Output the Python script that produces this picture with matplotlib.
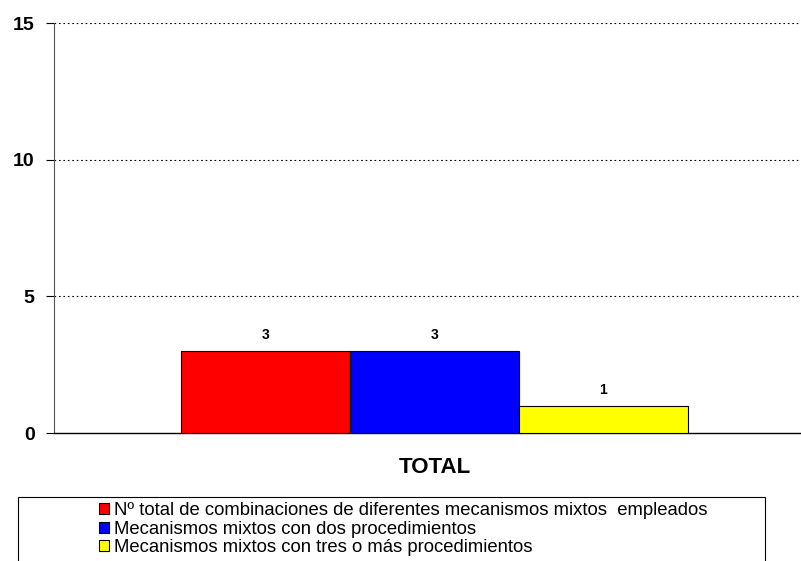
import matplotlib
matplotlib.use("Agg")
import matplotlib.pyplot as plt
from matplotlib.patches import Rectangle, Patch

plt.rcParams['font.family'] = ['Liberation Sans', 'DejaVu Sans']

category = "TOTAL"
series = ["Nº total de combinaciones de diferentes mecanismos mixtos  empleados",
          "Mecanismos mixtos con dos procedimientos",
          "Mecanismos mixtos con tres o más procedimientos"]
values = [3, 3, 1]
colors = ["#ff0000", "#0000ff", "#ffff00"]
yticks = [0, 5, 10, 15]

fig = plt.figure(figsize=(8.01, 5.61), dpi=100)
ax = fig.add_axes([54 / 801, (561 - 433) / 561, 746 / 801, 410 / 561])

w = 0.2265
center = 0.01
for i, (v, c) in enumerate(zip(values, colors)):
    x = center + (i - 1) * w
    ax.bar(x, v, width=w, color=c, edgecolor="black", linewidth=0.8, zorder=3)
    ax.text(x, v + 0.32, str(v), ha="center", va="bottom", fontsize=10, fontweight="bold")

ax.set_xlim(-0.5, 0.5)
ax.set_ylim(0, 15)
ax.set_yticks(yticks)
ax.set_yticklabels([str(t) for t in yticks], fontsize=14, fontweight="bold")
ax.set_xticks([center])
ax.set_xticklabels([category], fontsize=16, fontweight="bold")
ax.tick_params(axis="x", length=0, pad=17)
ax.tick_params(axis="y", length=6, width=0.8, direction="out", pad=8)
for t in yticks[1:]:
    ax.axhline(t, color="black", linestyle=(0, (1.5, 2.5)), linewidth=0.8, zorder=1)
ax.spines["top"].set_visible(False)
ax.spines["right"].set_visible(False)
ax.spines["left"].set_color("#555555")
ax.spines["bottom"].set_linewidth(1.0)

fig.patches.append(Rectangle((18 / 801, -0.05), (765 - 18) / 801, (561 - 497) / 561 + 0.05,
                             transform=fig.transFigure, fill=False, edgecolor="black",
                             linewidth=0.8))
handles = [Patch(facecolor=c, edgecolor="black", linewidth=0.8) for c in colors]
fig.legend(handles, series, loc="upper left", bbox_to_anchor=(99 / 801, (561 - 502) / 561),
           frameon=False, fontsize=13.3, handlelength=0.55, handleheight=0.55,
           handletextpad=0.25, labelspacing=0.09, borderpad=0, borderaxespad=0)

fig.savefig("out.png", dpi=100)
